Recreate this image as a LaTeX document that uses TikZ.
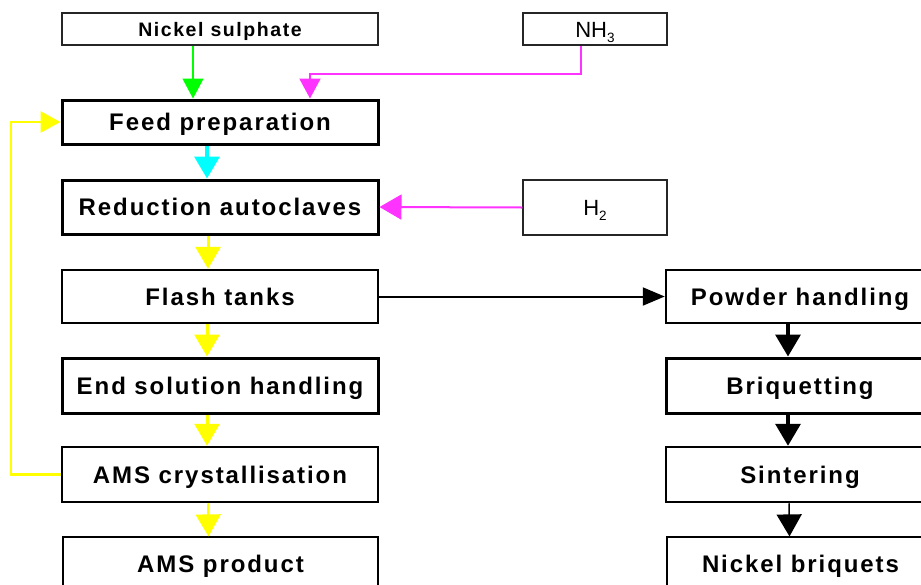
\documentclass[tikz,border=0pt]{standalone}
\usepackage{fontspec}
\setmainfont{Liberation Sans}
\newfontfamily\lbf{Liberation Sans}[LetterSpace=8]
\usetikzlibrary{arrows.meta}
\definecolor{mygreen}{RGB}{0,255,0}
\definecolor{mymag}{RGB}{255,51,255}
\definecolor{mycyan}{RGB}{0,255,255}
\definecolor{myyel}{RGB}{255,255,0}
\newcommand{\subs}[1]{\raisebox{-5pt}{\fontsize{13.5}{14}\selectfont #1}}
\tikzset{
  box/.style={draw=black, rectangle, inner sep=0pt, align=center, text height=17pt, text depth=0pt, font=\lbf\bfseries\fontsize{24}{26}\selectfont},
  bigbox/.style={box, minimum width=316pt, minimum height=54pt},
  rbox/.style={box, minimum width=268pt, minimum height=54pt},
  srcbox/.style={draw=black!85, rectangle, inner sep=0pt, line width=1.5pt, minimum width=144pt, text height=16pt, text depth=0pt, font=\fontsize{22}{24}\selectfont},
  tip/.style={-{Triangle[length=20pt,width=21pt]}},
  bigtip/.style={-{Triangle[length=22pt,width=25pt]}},
}
\begin{document}
\begin{tikzpicture}[x=1pt,y=-1pt]
\useasboundingbox (0,0) rectangle (921,584);
% left column
\node[box, line width=1.5pt, draw=black!85, minimum width=316pt, minimum height=32pt, text height=14pt, font=\lbf\bfseries\fontsize{19.5}{22}\selectfont] (ns) at (220,29) {Nickel sulphate};
\node[srcbox, minimum height=32pt] (nh3) at (595,29) {NH\subs{3}};
\node[bigbox, minimum height=44pt, line width=3pt] (feed) at (220,122) {Feed preparation};
\node[bigbox, line width=3pt] (red) at (220,207) {Reduction autoclaves};
\node[srcbox, minimum height=55pt] (h2) at (595,207.5) {H\subs{2}};
\node[bigbox, minimum height=53pt, line width=2.5pt] (flash) at (220,296.5) {Flash tanks};
\node[bigbox, minimum height=55pt, line width=3pt] (endsol) at (220,385.5) {End solution handling};
\node[bigbox, minimum height=55pt, line width=2.5pt] (ams) at (220,474.5) {AMS crystallisation};
\node[bigbox, line width=1.2pt, minimum width=315pt] (amsp) at (220.5,564) {AMS product};
% right column
\node[rbox, minimum height=53pt, line width=2.5pt] (powder) at (800,296.5) {Powder handling};
\node[rbox, minimum height=55pt, line width=3pt] (briq) at (800,385.5) {Briquetting};
\node[rbox, minimum height=55pt, line width=2.5pt] (sint) at (800,474.5) {Sintering};
\node[rbox, line width=1.2pt, minimum width=267pt] (nb) at (800.5,564) {Nickel briquets};
% connectors
\draw[tip, mygreen, line width=1.3pt] ([xshift=-27pt]ns.south) -- ([xshift=-27pt]feed.north);
\draw[tip, mymag, line width=2pt] ([xshift=-14pt]nh3.south) -- ++(0,28) -| ([xshift=90pt]feed.north);
\draw[tip, myyel, line width=2.5pt] (ams.west) -- ++(-50,0) |- (feed.west);
\draw[bigtip, mycyan, line width=3.5pt] ([xshift=-13pt]feed.south) -- ([xshift=-13pt]red.north);
\draw[bigtip, mymag, line width=2pt] (h2.west) -- (red.east);
\draw[bigtip, myyel, line width=3pt] ([xshift=-12pt]red.south) -- ([xshift=-12pt]flash.north);
\draw[bigtip, myyel, line width=3pt] ([xshift=-13pt]flash.south) -- ([xshift=-13pt]endsol.north);
\draw[bigtip, myyel, line width=3pt] ([xshift=-13pt]endsol.south) -- ([xshift=-13pt]ams.north);
\draw[bigtip, myyel, line width=2pt] ([xshift=-12pt]ams.south) -- ([xshift=-12pt]amsp.north);
\draw[-{Triangle[length=22pt,width=18pt]}, black, line width=2pt] (flash.east) -- (powder.west);
\draw[bigtip, black, line width=3.5pt] ([xshift=-12pt]powder.south) -- ([xshift=-12pt]briq.north);
\draw[bigtip, black, line width=3.5pt] ([xshift=-12pt]briq.south) -- ([xshift=-12pt]sint.north);
\draw[bigtip, black, line width=1.5pt] ([xshift=-11pt]sint.south) -- ([xshift=-11pt]nb.north);
\end{tikzpicture}
\end{document}
